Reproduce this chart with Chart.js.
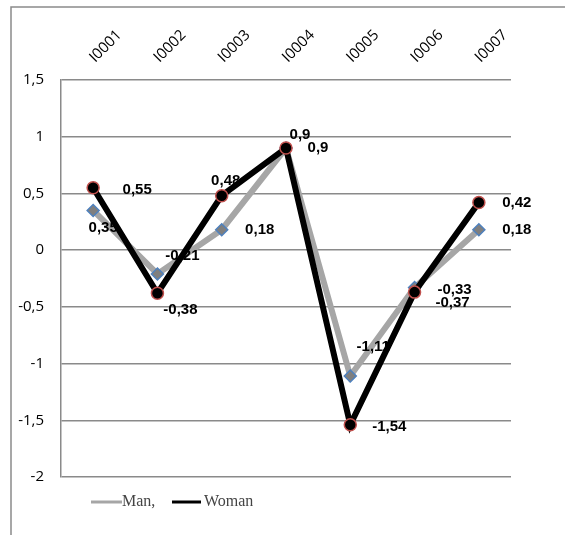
<!DOCTYPE html>
<html>
<head>
<meta charset="utf-8">
<script src="https://cdn.jsdelivr.net/npm/chart.js@4"></script>
<style>
  html, body { margin: 0; padding: 0; background: #fff; }
  #c { display: block; }
</style>
</head>
<body>
<canvas id="c" width="565" height="535"></canvas>
<script>
const categories = ['I0001', 'I0002', 'I0003', 'I0004', 'I0005', 'I0006', 'I0007'];
const manValues = [0.35, -0.21, 0.18, 0.9, -1.11, -0.33, 0.18];
const womanValues = [0.55, -0.38, 0.48, 0.9, -1.54, -0.37, 0.42];
const seriesNames = ['Man,', 'Woman'];
const yMin = -2, yMax = 1.5, yStep = 0.5;

const fmt = v => String(Math.round(v * 100) / 100).replace('.', ',');

const labelOffsets = {
  man:   [[10, 17], [25, -18], [38, 0], [14, -13], [23, -29], [40, 2], [38, 0]],
  woman: [[44, 2], [23, 17], [4, -15], [32, 0], [39, 2], [38, 11], [38, 0]]
};

const decorPlugin = {
  id: 'decor',
  beforeDraw(chart) {
    const ctx = chart.ctx;
    ctx.save();
    ctx.strokeStyle = '#8a8a8a';
    ctx.lineWidth = 1.5;
    ctx.beginPath();
    ctx.moveTo(11, 535);
    ctx.lineTo(11, 7);
    ctx.lineTo(565, 7);
    ctx.stroke();
    ctx.restore();
  },
  afterDraw(chart) {
    // rotated category labels above the plot
    const ctx = chart.ctx;
    const xs = chart.scales.x;
    ctx.save();
    ctx.font = '15px "Open Sans", sans-serif';
    ctx.fillStyle = '#000';
    ctx.textAlign = 'left';
    ctx.textBaseline = 'alphabetic';
    categories.forEach((lab, i) => {
      const px = xs.getPixelForValue(i);
      ctx.save();
      ctx.translate(px + 2, 63);
      ctx.rotate(-Math.PI / 4);
      ctx.fillText(lab, 0, 0);
      ctx.restore();
    });
    ctx.restore();
  },
  afterDatasetsDraw(chart) {
    const ctx = chart.ctx;
    ctx.save();
    ctx.font = 'bold 15px "Liberation Sans", Arial, sans-serif';
    ctx.fillStyle = '#000';
    ctx.textAlign = 'center';
    ctx.textBaseline = 'middle';
    const keys = ['man', 'woman'];
    chart.data.datasets.forEach((ds, di) => {
      const meta = chart.getDatasetMeta(di);
      const offs = labelOffsets[keys[di]];
      meta.data.forEach((pt, i) => {
        ctx.fillText(fmt(ds.data[i]), pt.x + offs[i][0], pt.y + offs[i][1]);
      });
    });
    // legend
    const ly = 502;
    ctx.lineWidth = 3;
    ctx.strokeStyle = '#a6a6a6';
    ctx.beginPath(); ctx.moveTo(91, ly); ctx.lineTo(122, ly); ctx.stroke();
    ctx.strokeStyle = '#000';
    ctx.beginPath(); ctx.moveTo(172, ly); ctx.lineTo(201, ly); ctx.stroke();
    ctx.font = '16px "Liberation Serif", "Times New Roman", serif';
    ctx.fillStyle = '#444';
    ctx.textAlign = 'left';
    ctx.textBaseline = 'alphabetic';
    ctx.fillText(seriesNames[0], 122, 506);
    ctx.fillText(seriesNames[1], 204, 506);
    ctx.restore();
  }
};

new Chart(document.getElementById('c'), {
  type: 'line',
  data: {
    labels: categories,
    datasets: [
      {
        label: seriesNames[0],
        data: manValues,
        order: 1,
        borderColor: '#a6a6a6',
        borderWidth: 6,
        tension: 0,
        pointStyle: 'rectRot',
        pointRadius: 6,
        pointBackgroundColor: '#7f7f7f',
        pointBorderColor: '#4f81bd',
        pointBorderWidth: 1.5
      },
      {
        label: seriesNames[1],
        data: womanValues,
        order: 0,
        borderColor: '#000000',
        borderWidth: 6,
        tension: 0,
        pointStyle: 'circle',
        pointRadius: 6,
        pointBackgroundColor: '#000000',
        pointBorderColor: '#c0504d',
        pointBorderWidth: 1.5
      }
    ]
  },
  options: {
    responsive: false,
    animation: false,
    layout: { padding: { left: 0, right: 54, top: 0, bottom: 58 } },
    plugins: { legend: { display: false }, tooltip: { enabled: false } },
    scales: {
      x: {
        position: 'top',
        offset: true,
        grid: { display: false, drawTicks: false },
        border: { display: false },
        ticks: { display: false },
        afterFit(scale) {
          scale.height = 80;
          scale.paddingLeft = 0;
          scale.paddingRight = 0;
        }
      },
      y: {
        min: yMin,
        max: yMax,
        ticks: {
          stepSize: yStep,
          padding: 17,
          color: '#000',
          font: { family: '"Open Sans", sans-serif', size: 15 },
          callback: v => fmt(v)
        },
        grid: { color: '#8a8a8a', lineWidth: 1.5, drawTicks: false },
        border: { display: true, color: '#8a8a8a', width: 1.5 },
        afterFit(scale) {
          scale.width = 61;
          scale.paddingTop = 0;
          scale.paddingBottom = 0;
        }
      }
    }
  },
  plugins: [decorPlugin]
});
</script>
</body>
</html>
